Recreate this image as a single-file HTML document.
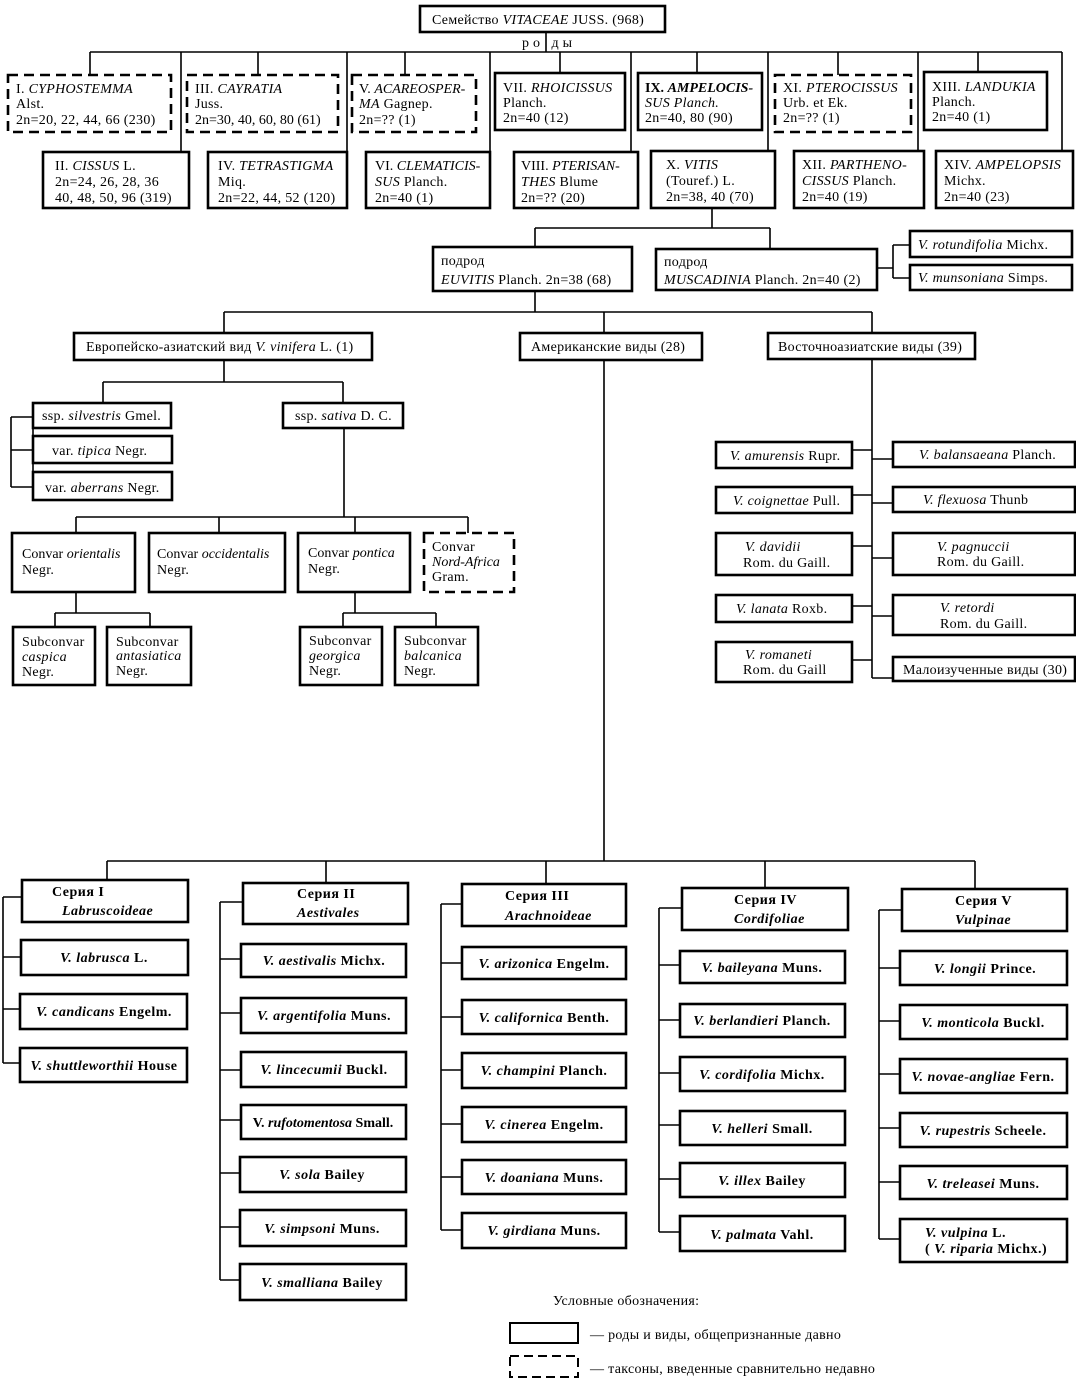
<!DOCTYPE html>
<html><head><meta charset="utf-8"><style>
html,body{margin:0;padding:0;background:#fff}
svg{display:block}
text{font-family:"Liberation Serif","DejaVu Serif",serif;font-size:14px;letter-spacing:0.3px;fill:#000}
.b{fill:#fff;stroke:#000;stroke-width:2.6}
.d{fill:#fff;stroke:#000;stroke-width:2.6;stroke-dasharray:10 6}
.l{fill:none;stroke:#000;stroke-width:1.6}
.s text{font-weight:bold;letter-spacing:0.5px}
.m{text-anchor:middle}
.t{letter-spacing:0}
</style></head><body>
<svg width="1076" height="1387" viewBox="0 0 1076 1387" xmlns="http://www.w3.org/2000/svg">
<!-- connectors -->
<path class="l" d="M546 32V52M90 52H1062M90 52V75M258 52V75M405 52V75M560 52V73M697 52V73M838 52V75M978 52V72M181 52V152M347 52V152M490 52V152M631 52V152M768 52V152M1062 52V152M918 52V152"/>
<path class="l" d="M712 208V228M535 228H770M535 228V247M770 228V249M877 268H893M893 245V278M893 245H910M893 278H910"/>
<path class="l" d="M535 291V312M224 312H872M224 312V333M604 312V333M872 312V333"/>
<path class="l" d="M224 360V382M103 382H343M103 382V403M343 382V403M33 417V487M11 417H33M11 417V487M11 450H33M11 487H33"/>
<path class="l" d="M344 428V517M76 517H468M76 517V533M219 517V533M355 517V533M468 517V533"/>
<path class="l" d="M76 592V613M55 613H150M55 613V627M150 613V627M355 592V613M343 613H436M343 613V627M436 613V627"/>
<path class="l" d="M872 360V678M852 450H872M852 495H872M852 546H872M852 606H872M852 660H872M872 459H893M872 503H893M872 558H893M872 616H893M872 678H893"/>
<path class="l" d="M604 360V861M107 861H975M107 861V880M326 861V883M546 861V884M765 861V888M975 861V889"/>
<path class="l" d="M3 897V1063M3 897H22M3 957H21M3 1009H20M3 1063H20"/>
<path class="l" d="M220 902V1280M220 902H243M220 959H241M220 1013H241M220 1070H241M220 1120H241M220 1173H241M220 1227H241M220 1280H241"/>
<path class="l" d="M441 904V1230M441 904H462M441 963H462M441 1017H462M441 1070H462M441 1124H462M441 1177H462M441 1230H462"/>
<path class="l" d="M659 908V1232M659 908H682M659 965H680M659 1020H680M659 1073H680M659 1125H680M659 1179H680M659 1232H680"/>
<path class="l" d="M879 910V1239M879 910H902M879 968H900M879 1021H900M879 1074H900M879 1128H900M879 1182H900M879 1239H900"/>

<!-- family -->
<rect class="b" x="420" y="6" width="245" height="26"/>
<text x="432" y="24">Семейство <tspan font-style="italic">VITACEAE</tspan> JUSS. (968)</text>
<text x="522" y="47" font-size="12" style="letter-spacing:4px">ро ды</text>

<!-- top row -->
<rect class="d" x="8" y="75" width="163" height="57"/>
<text x="16" y="93">I. <tspan font-style="italic">CYPHOSTEMMA</tspan></text><text x="16" y="108">Alst.</text><text x="16" y="124">2n=20, 22, 44, 66 (230)</text>
<rect class="d" x="187" y="75" width="151" height="57"/>
<text x="195" y="93">III. <tspan font-style="italic">CAYRATIA</tspan></text><text x="195" y="108">Juss.</text><text x="195" y="124" class="t">2n=30, 40, 60, 80 (61)</text>
<rect class="d" x="352" y="75" width="124" height="57"/>
<text x="359" y="93" class="t">V. <tspan font-style="italic">ACAREOSPER-</tspan></text><text x="359" y="108"><tspan font-style="italic">MA</tspan> Gagnep.</text><text x="359" y="124">2n=?? (1)</text>
<rect class="b" x="495" y="73" width="130" height="57"/>
<text x="503" y="92">VII. <tspan font-style="italic">RHOICISSUS</tspan></text><text x="503" y="107">Planch.</text><text x="503" y="122">2n=40 (12)</text>
<rect class="b" x="638" y="73" width="124" height="57"/>
<text x="645" y="92" font-weight="bold" class="t" font-size="13">IX. <tspan font-style="italic">AMPELOCIS-</tspan></text><text x="645" y="107" font-style="italic">SUS Planch.</text><text x="645" y="122">2n=40, 80 (90)</text>
<rect class="d" x="775" y="75" width="136" height="57"/>
<text x="783" y="92">XI. <tspan font-style="italic">PTEROCISSUS</tspan></text><text x="783" y="107">Urb. et Ek.</text><text x="783" y="122">2n=?? (1)</text>
<rect class="b" x="924" y="72" width="123" height="58"/>
<text x="932" y="91">XIII. <tspan font-style="italic">LANDUKIA</tspan></text><text x="932" y="106">Planch.</text><text x="932" y="121">2n=40 (1)</text>

<!-- second row -->
<rect class="b" x="43" y="152" width="146" height="56"/>
<text x="55" y="170">II. <tspan font-style="italic">CISSUS</tspan> L.</text><text x="55" y="186">2n=24, 26, 28, 36</text><text x="55" y="202">40, 48, 50, 96 (319)</text>
<rect class="b" x="208" y="152" width="139" height="56"/>
<text x="218" y="170">IV. <tspan font-style="italic">TETRASTIGMA</tspan></text><text x="218" y="186">Miq.</text><text x="218" y="202">2n=22, 44, 52 (120)</text>
<rect class="b" x="366" y="152" width="124" height="56"/>
<text x="375" y="170" class="t">VI. <tspan font-style="italic">CLEMATICIS-</tspan></text><text x="375" y="186"><tspan font-style="italic">SUS</tspan> Planch.</text><text x="375" y="202">2n=40 (1)</text>
<rect class="b" x="514" y="152" width="124" height="56"/>
<text x="521" y="170" class="t">VIII. <tspan font-style="italic">PTERISAN-</tspan></text><text x="521" y="186"><tspan font-style="italic">THES</tspan> Blume</text><text x="521" y="202">2n=?? (20)</text>
<rect class="b" x="651" y="151" width="124" height="57"/>
<text x="666" y="169">X. <tspan font-style="italic">VITIS</tspan></text><text x="666" y="185">(Touref.) L.</text><text x="666" y="201">2n=38, 40 (70)</text>
<rect class="b" x="794" y="151" width="130" height="57"/>
<text x="802" y="169">XII. <tspan font-style="italic">PARTHENO-</tspan></text><text x="802" y="185"><tspan font-style="italic">CISSUS</tspan> Planch.</text><text x="802" y="201">2n=40 (19)</text>
<rect class="b" x="936" y="151" width="137" height="57"/>
<text x="944" y="169">XIV. <tspan font-style="italic">AMPELOPSIS</tspan></text><text x="944" y="185">Michx.</text><text x="944" y="201">2n=40 (23)</text>

<!-- subgenera -->
<rect class="b" x="433" y="247" width="199" height="44"/>
<text x="441" y="265" font-size="12">подрод</text><text x="441" y="284"><tspan font-style="italic">EUVITIS</tspan> Planch. 2n=38 (68)</text>
<rect class="b" x="656" y="249" width="221" height="41"/>
<text x="664" y="266" font-size="12">подрод</text><text x="664" y="284"><tspan font-style="italic">MUSCADINIA</tspan> Planch. 2n=40 (2)</text>
<rect class="b" x="910" y="231" width="162" height="26"/>
<text x="918" y="249"><tspan font-style="italic">V. rotundifolia</tspan>  Michx.</text>
<rect class="b" x="910" y="265" width="162" height="25"/>
<text x="918" y="282"><tspan font-style="italic">V. munsoniana</tspan>    Simps.</text>

<!-- groups -->
<rect class="b" x="74" y="333" width="298" height="27"/>
<text x="86" y="351">Европейско-азиатский вид  <tspan font-style="italic">V. vinifera</tspan> L. (1)</text>
<rect class="b" x="520" y="333" width="182" height="27"/>
<text x="531" y="351">Американские виды (28)</text>
<rect class="b" x="768" y="333" width="207" height="26"/>
<text x="778" y="351">Восточноазиатские виды (39)</text>

<!-- vinifera -->
<rect class="b" x="33" y="403" width="138" height="25"/>
<text x="42" y="420">ssp. <tspan font-style="italic">silvestris</tspan>  Gmel.</text>
<rect class="b" x="283" y="403" width="120" height="25"/>
<text x="295" y="420">ssp. <tspan font-style="italic">sativa</tspan> D. C.</text>
<rect class="b" x="33" y="436" width="139" height="27"/>
<text x="52" y="455">var. <tspan font-style="italic">tipica</tspan> Negr.</text>
<rect class="b" x="33" y="472" width="139" height="28"/>
<text x="45" y="492">var. <tspan font-style="italic">aberrans</tspan> Negr.</text>

<rect class="b" x="12" y="533" width="123" height="59"/>
<text x="22" y="558" class="t">Convar <tspan font-style="italic">orientalis</tspan></text><text x="22" y="574">Negr.</text>
<rect class="b" x="149" y="533" width="136" height="59"/>
<text x="157" y="558" class="t">Convar <tspan font-style="italic">occidentalis</tspan></text><text x="157" y="574">Negr.</text>
<rect class="b" x="298" y="533" width="112" height="59"/>
<text x="308" y="557" class="t">Convar <tspan font-style="italic">pontica</tspan></text><text x="308" y="573">Negr.</text>
<rect class="d" x="424" y="533" width="90" height="59"/>
<text x="432" y="551">Convar</text><text x="432" y="566" font-style="italic" class="t">Nord-Africa</text><text x="432" y="581">Gram.</text>

<rect class="b" x="13" y="627" width="82" height="58"/>
<text x="22" y="646">Subconvar</text><text x="22" y="661" font-style="italic">caspica</text><text x="22" y="676">Negr.</text>
<rect class="b" x="107" y="627" width="84" height="58"/>
<text x="116" y="646">Subconvar</text><text x="116" y="660" font-style="italic">antasiatica</text><text x="116" y="675">Negr.</text>
<rect class="b" x="300" y="627" width="82" height="58"/>
<text x="309" y="645">Subconvar</text><text x="309" y="660" font-style="italic">georgica</text><text x="309" y="675">Negr.</text>
<rect class="b" x="395" y="627" width="83" height="58"/>
<text x="404" y="645">Subconvar</text><text x="404" y="660" font-style="italic">balcanica</text><text x="404" y="675">Negr.</text>

<!-- eastern -->
<rect class="b" x="716" y="442" width="136" height="26"/>
<text x="730" y="460"><tspan font-style="italic">V. amurensis</tspan> Rupr.</text>
<rect class="b" x="716" y="487" width="136" height="26"/>
<text x="733" y="505"><tspan font-style="italic">V. coignettae</tspan>  Pull.</text>
<rect class="b" x="716" y="533" width="136" height="42"/>
<text x="745" y="551" font-style="italic">V. davidii</text><text x="743" y="567">Rom. du Gaill.</text>
<rect class="b" x="716" y="595" width="136" height="27"/>
<text x="736" y="613"><tspan font-style="italic">V. lanata</tspan>  Roxb.</text>
<rect class="b" x="716" y="642" width="136" height="40"/>
<text x="745" y="659" font-style="italic">V. romaneti</text><text x="743" y="674">Rom. du Gaill</text>
<rect class="b" x="893" y="442" width="182" height="25"/>
<text x="919" y="459"><tspan font-style="italic">V. balansaeana</tspan> Planch.</text>
<rect class="b" x="893" y="487" width="182" height="25"/>
<text x="923" y="504"><tspan font-style="italic">V. flexuosa</tspan>     Thunb</text>
<rect class="b" x="893" y="533" width="182" height="42"/>
<text x="937" y="551" font-style="italic">V. pagnuccii</text><text x="937" y="566">Rom. du Gaill.</text>
<rect class="b" x="893" y="595" width="182" height="40"/>
<text x="940" y="612" font-style="italic">V. retordi</text><text x="940" y="628">Rom. du Gaill.</text>
<rect class="b" x="893" y="657" width="182" height="24"/>
<text x="903" y="674">Малоизученные виды (30)</text>

<!-- series -->
<g class="s">
<rect class="b" x="22" y="880" width="166" height="42"/>
<text x="52" y="896">Серия I</text><text x="62" y="915" font-style="italic">Labruscoideae</text>
<rect class="b" x="21" y="940" width="167" height="35"/>
<text x="104" y="962" class="m"><tspan font-style="italic">V. labrusca</tspan> L.</text>
<rect class="b" x="20" y="994" width="167" height="35"/>
<text x="104" y="1016" class="m"><tspan font-style="italic">V. candicans</tspan> Engelm.</text>
<rect class="b" x="20" y="1048" width="167" height="34"/>
<text x="104" y="1070" class="m"><tspan font-style="italic">V. shuttleworthii</tspan> House</text>

<rect class="b" x="243" y="883" width="165" height="41"/>
<text x="297" y="898">Серия II</text><text x="297" y="917" font-style="italic">Aestivales</text>
<rect class="b" x="241" y="944" width="165" height="33"/>
<text x="324" y="965" class="m"><tspan font-style="italic">V. aestivalis</tspan>  Michx.</text>
<rect class="b" x="241" y="998" width="165" height="35"/>
<text x="324" y="1020" class="m"><tspan font-style="italic">V. argentifolia</tspan>  Muns.</text>
<rect class="b" x="241" y="1052" width="165" height="35"/>
<text x="324" y="1074" class="m"><tspan font-style="italic">V. lincecumii</tspan>  Buckl.</text>
<rect class="b" x="241" y="1105" width="165" height="34"/>
<text x="323" y="1127" class="m" style="letter-spacing:0">V. <tspan font-style="italic">rufotomentosa</tspan> Small.</text>
<rect class="b" x="240" y="1157" width="166" height="35"/>
<text x="322" y="1179" class="m"><tspan font-style="italic">V. sola</tspan>  Bailey</text>
<rect class="b" x="240" y="1210" width="166" height="36"/>
<text x="322" y="1233" class="m"><tspan font-style="italic">V. simpsoni</tspan>  Muns.</text>
<rect class="b" x="240" y="1264" width="166" height="36"/>
<text x="322" y="1287" class="m"><tspan font-style="italic">V. smalliana</tspan> Bailey</text>

<rect class="b" x="462" y="884" width="164" height="42"/>
<text x="505" y="900">Серия III</text><text x="505" y="920" font-style="italic">Arachnoideae</text>
<rect class="b" x="462" y="947" width="164" height="32"/>
<text x="544" y="968" class="m"><tspan font-style="italic">V. arizonica</tspan>  Engelm.</text>
<rect class="b" x="462" y="1000" width="164" height="34"/>
<text x="544" y="1022" class="m"><tspan font-style="italic">V. californica</tspan>  Benth.</text>
<rect class="b" x="462" y="1053" width="164" height="35"/>
<text x="544" y="1075" class="m"><tspan font-style="italic">V. champini</tspan> Planch.</text>
<rect class="b" x="462" y="1107" width="164" height="35"/>
<text x="544" y="1129" class="m"><tspan font-style="italic">V. cinerea</tspan>  Engelm.</text>
<rect class="b" x="462" y="1160" width="164" height="34"/>
<text x="544" y="1182" class="m"><tspan font-style="italic">V. doaniana</tspan>  Muns.</text>
<rect class="b" x="462" y="1213" width="164" height="35"/>
<text x="544" y="1235" class="m"><tspan font-style="italic">V. girdiana</tspan>  Muns.</text>

<rect class="b" x="682" y="888" width="166" height="42"/>
<text x="734" y="904">Серия IV</text><text x="734" y="923" font-style="italic">Cordifoliae</text>
<rect class="b" x="680" y="951" width="165" height="32"/>
<text x="762" y="972" class="m"><tspan font-style="italic">V. baileyana</tspan> Muns.</text>
<rect class="b" x="680" y="1004" width="165" height="33"/>
<text x="762" y="1025" class="m"><tspan font-style="italic">V. berlandieri</tspan>  Planch.</text>
<rect class="b" x="680" y="1057" width="165" height="34"/>
<text x="762" y="1079" class="m"><tspan font-style="italic">V. cordifolia</tspan> Michx.</text>
<rect class="b" x="680" y="1111" width="165" height="34"/>
<text x="762" y="1133" class="m"><tspan font-style="italic">V. helleri</tspan>  Small.</text>
<rect class="b" x="680" y="1163" width="165" height="34"/>
<text x="762" y="1185" class="m"><tspan font-style="italic">V. illex</tspan>  Bailey</text>
<rect class="b" x="680" y="1216" width="165" height="35"/>
<text x="762" y="1239" class="m"><tspan font-style="italic">V. palmata</tspan>  Vahl.</text>

<rect class="b" x="902" y="889" width="165" height="42"/>
<text x="955" y="905">Серия V</text><text x="955" y="924" font-style="italic">Vulpinae</text>
<rect class="b" x="900" y="951" width="167" height="34"/>
<text x="985" y="973" class="m"><tspan font-style="italic">V. longii</tspan>  Prince.</text>
<rect class="b" x="900" y="1005" width="167" height="34"/>
<text x="983" y="1027" class="m"><tspan font-style="italic">V. monticola</tspan>  Buckl.</text>
<rect class="b" x="900" y="1059" width="167" height="34"/>
<text x="983" y="1081" class="m"><tspan font-style="italic">V. novae-angliae</tspan> Fern.</text>
<rect class="b" x="900" y="1113" width="167" height="34"/>
<text x="983" y="1135" class="m"><tspan font-style="italic">V. rupestris</tspan>  Scheele.</text>
<rect class="b" x="900" y="1166" width="167" height="33"/>
<text x="983" y="1188" class="m"><tspan font-style="italic">V. treleasei</tspan>  Muns.</text>
<rect class="b" x="900" y="1219" width="167" height="43"/>
<text x="925" y="1237"><tspan font-style="italic">V. vulpina</tspan> L.</text><text x="925" y="1253">( <tspan font-style="italic">V. riparia</tspan> Michx.)</text>
</g>

<!-- legend -->
<text x="553" y="1305">Условные обозначения:</text>
<rect x="510" y="1323" width="68" height="20" fill="#fff" stroke="#000" stroke-width="2"/>
<text x="590" y="1339" font-size="12">— роды и виды, общепризнанные давно</text>
<rect x="510" y="1356" width="68" height="21" fill="#fff" stroke="#000" stroke-width="2" stroke-dasharray="9 5"/>
<text x="590" y="1373" font-size="12">— таксоны, введенные сравнительно недавно</text>
</svg>
</body></html>
